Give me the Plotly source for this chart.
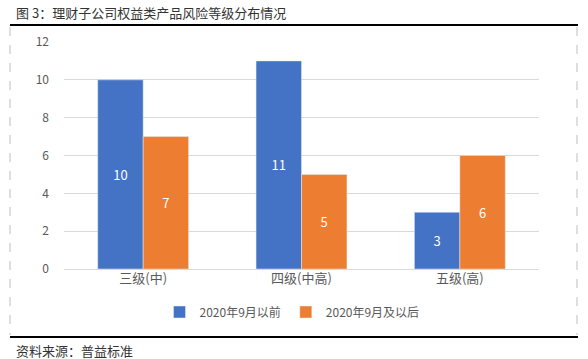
import plotly.graph_objects as go

categories = ["三级(中)", "四级(中高)", "五级(高)"]
before = [10, 11, 3]
after = [7, 5, 6]
series_names = ["2020年9月以前", "2020年9月及以后"]
title_text = "图 3：理财子公司权益类产品风险等级分布情况"
source_text = "资料来源：普益标准"

FONT = "Noto Sans CJK SC, Microsoft YaHei, sans-serif"
L, R, T, B = 64, 49, 42, 90
W, H = 588, 359
pw, ph = W - L - R, H - T - B

def px(x):
    return (x - L) / pw

def py(y):
    return (H - B - y) / ph

fig = go.Figure()
fig.add_trace(go.Bar(x=categories, y=before, name=series_names[0], marker_color="#4472C4",
                     text=before, textposition="inside", insidetextanchor="middle",
                     textfont=dict(color="white", size=13, family=FONT)))
fig.add_trace(go.Bar(x=categories, y=after, name=series_names[1], marker_color="#ED7D31",
                     text=after, textposition="inside", insidetextanchor="middle",
                     textfont=dict(color="white", size=13, family=FONT)))

fig.update_layout(
    width=W, height=H,
    margin=dict(l=L, r=R, t=T, b=B),
    paper_bgcolor="white", plot_bgcolor="white",
    barmode="group", bargap=0.426, bargroupgap=0,
    font=dict(family=FONT, color="#595959", size=12),
    showlegend=True,
    legend=dict(orientation="h", x=px(292), xanchor="center", y=py(312), yanchor="middle",
                font=dict(size=12, color="#595959"), itemwidth=30, tracegroupgap=0,
                itemclick=False),
    xaxis=dict(showgrid=False, showline=False, ticks="", tickfont=dict(size=13, color="#595959")),
    yaxis=dict(range=[0, 12], dtick=2, showgrid=True, gridcolor="#D9D9D9", gridwidth=1,
               zeroline=True, zerolinecolor="#D9D9D9", zerolinewidth=1,
               tickfont=dict(size=12, color="#595959"), ticklabelstandoff=14),
)

# frame lines
fig.add_shape(type="line", xref="paper", yref="paper", x0=px(10), x1=px(578), y0=py(25), y1=py(25),
              line=dict(color="black", width=2))
fig.add_shape(type="line", xref="paper", yref="paper", x0=px(10), x1=px(578), y0=py(337), y1=py(337),
              line=dict(color="black", width=2))
fig.add_shape(type="line", xref="paper", yref="paper", x0=px(10), x1=px(10), y0=py(27), y1=py(335),
              line=dict(color="#BFBFBF", width=1, dash="dash"))
fig.add_shape(type="line", xref="paper", yref="paper", x0=px(577), x1=px(577), y0=py(27), y1=py(335),
              line=dict(color="#BFBFBF", width=1, dash="dash"))

fig.add_annotation(text=title_text, xref="paper", yref="paper", x=px(14), y=py(12),
                   xanchor="left", yanchor="middle", showarrow=False,
                   font=dict(size=13, color="#333333", family=FONT))
fig.add_annotation(text=source_text, xref="paper", yref="paper", x=px(14), y=py(350),
                   xanchor="left", yanchor="middle", showarrow=False,
                   font=dict(size=13, color="#333333", family=FONT))

fig.write_html("out.html", config={"displayModeBar": False},
               post_script="document.body.style.margin='0';document.body.style.overflow='hidden';")
